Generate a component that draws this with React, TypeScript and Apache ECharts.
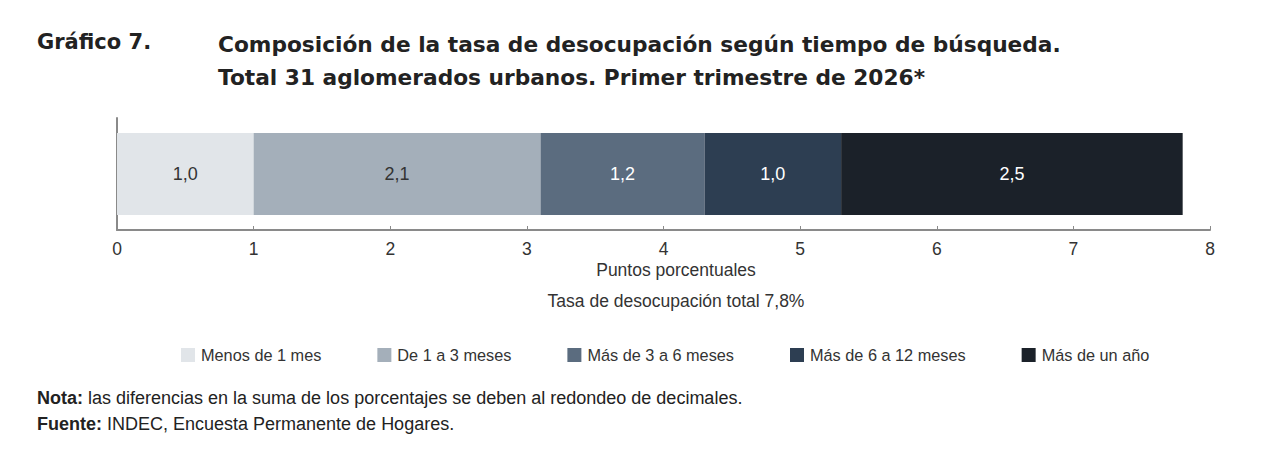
import { useEffect, useRef } from "react";
import * as echarts from "echarts";

const seriesNames = ["Menos de 1 mes", "De 1 a 3 meses", "Más de 3 a 6 meses", "Más de 6 a 12 meses", "Más de un año"];
const seriesValues = [1.0, 2.1, 1.2, 1.0, 2.5];
const seriesColors = ["#e1e5e9", "#a4afba", "#5b6c7f", "#2d3e52", "#1b2129"];
const labelColors = ["#333333", "#333333", "#ffffff", "#ffffff", "#ffffff"];
const categories = ["Total"];

const fmt = (v: number) => v.toFixed(1).replace(".", ",");
const bodyFont = "Liberation Sans, Arial, sans-serif";

export default function App() {
  const chartRef = useRef<HTMLDivElement>(null);

  useEffect(() => {
    document.body.style.margin = "0";
    if (!chartRef.current) return;
    const chart = echarts.init(chartRef.current, null, { renderer: "svg" });

    const series = seriesNames.map((name, i) => ({
      name,
      type: "bar",
      stack: "total",
      barWidth: 82,
      data: [seriesValues[i]],
      itemStyle: { color: seriesColors[i] },
      label: {
        show: true,
        position: "inside",
        formatter: (p: any) => fmt(p.value),
        color: labelColors[i],
        fontFamily: bodyFont,
        fontSize: 18
      }
    }));

    const option = {
      animation: false,
      textStyle: { fontFamily: bodyFont },
      grid: { left: 117, right: 70, top: 118, height: 112 },
      legend: {
        data: seriesNames,
        left: 176,
        top: 342,
        itemWidth: 14,
        itemHeight: 14,
        itemGap: 56,
        icon: "rect",
        textStyle: { fontSize: 16.3, color: "#333333", padding: [0, 0, 0, 1] }
      },
      xAxis: {
        type: "value",
        min: 0,
        max: 8,
        interval: 1,
        axisLine: { show: true, lineStyle: { color: "#8a8a8a", width: 2 } },
        axisTick: { show: true, inside: true, length: 4, lineStyle: { color: "#8a8a8a" } },
        axisLabel: { fontSize: 17.5, color: "#333333", margin: 10 },
        splitLine: { show: false }
      },
      yAxis: {
        type: "category",
        data: categories,
        axisLine: { show: true, lineStyle: { color: "#8a8a8a", width: 2 } },
        axisTick: { show: false },
        axisLabel: { show: false }
      },
      graphic: [
        {
          type: "text",
          left: 37,
          top: 31,
          style: { text: "Gráfico 7.", fontFamily: "DejaVu Sans", fontWeight: "bold", fontSize: 21, fill: "#222222" }
        },
        {
          type: "text",
          left: 218,
          top: 28,
          style: {
            text: "Composición de la tasa de desocupación según tiempo de búsqueda.\nTotal 31 aglomerados urbanos. Primer trimestre de 2026*",
            fontFamily: "DejaVu Sans",
            fontWeight: "bold",
            fontSize: 21.7,
            lineHeight: 33,
            fill: "#222222"
          }
        },
        {
          type: "text",
          x: 676,
          y: 270,
          style: {
            text: "Puntos porcentuales",
            fontFamily: bodyFont,
            fontSize: 17.5,
            fill: "#333333",
            align: "center",
            verticalAlign: "middle"
          }
        },
        {
          type: "text",
          x: 676,
          y: 301,
          style: {
            text: "Tasa de desocupación total 7,8%",
            fontFamily: bodyFont,
            fontSize: 17.5,
            fill: "#333333",
            align: "center",
            verticalAlign: "middle"
          }
        },
        {
          type: "text",
          left: 37,
          top: 385,
          style: {
            text: "{b|Nota:} las diferencias en la suma de los porcentajes se deben al redondeo de decimales.\n{b|Fuente:} INDEC, Encuesta Permanente de Hogares.",
            fontFamily: bodyFont,
            fontSize: 18,
            lineHeight: 26,
            fill: "#222222",
            rich: {
              b: { fontWeight: "bold", fontSize: 18, fontFamily: bodyFont, fill: "#222222" }
            }
          }
        }
      ],
      series
    };

    chart.setOption(option);
    return () => {
      chart.dispose();
    };
  }, []);

  return <div ref={chartRef} style={{ width: "1280px", height: "464px" }} />;
}
